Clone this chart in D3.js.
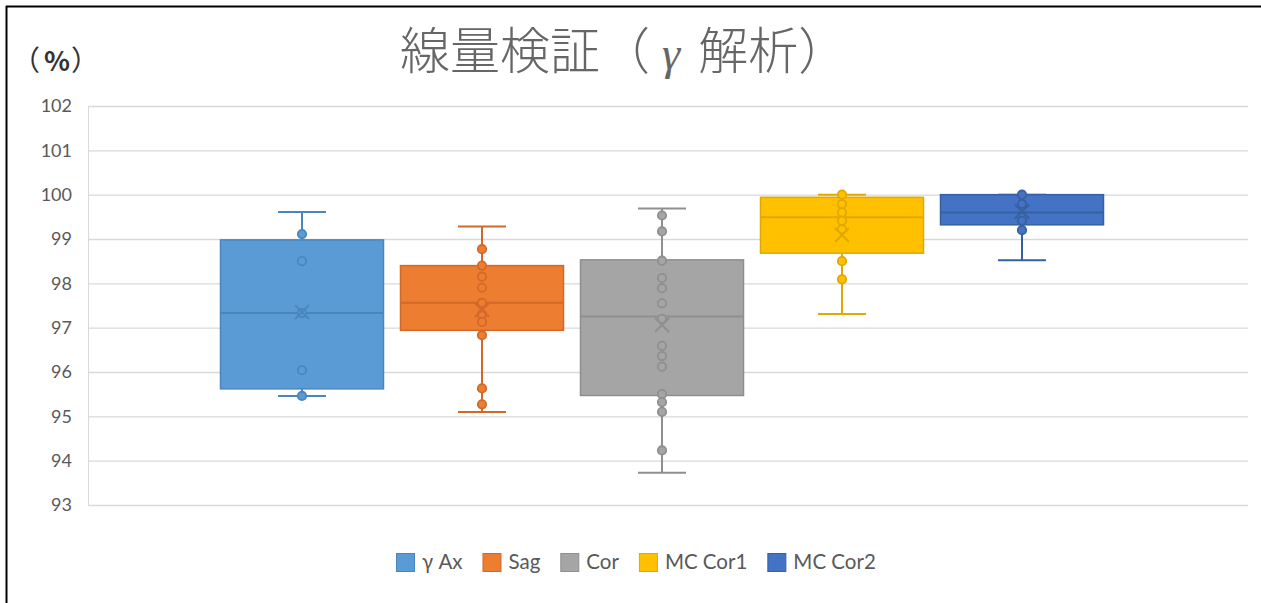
<!DOCTYPE html>
<html>
<head>
<meta charset="utf-8">
<script src="https://cdn.jsdelivr.net/npm/d3@7"></script>
<style>
  body { margin: 0; background: #fff; }
  svg { display: block; }
</style>
</head>
<body>
<svg width="1261" height="603"></svg>
<script>
const svg = d3.select("svg");

// series names + colours (Excel office palette)
const series = ["γ Ax", "Sag", "Cor", "MC Cor1", "MC Cor2"];
const fills = ["#5B9BD5", "#ED7D31", "#A5A5A5", "#FFC000", "#4472C4"];
const strokes = ["#4a86be", "#d2692a", "#8f8f8f", "#e0a800", "#36609f"];

// box statistics
const mins = [95.46, 95.10, 93.73, 97.31, 98.52];
const q1s = [95.62, 96.94, 95.47, 98.68, 99.32];
const medians = [97.33, 97.56, 97.25, 99.49, 99.60];
const q3s = [98.98, 98.40, 98.53, 99.94, 100.0];
const maxs = [99.61, 99.28, 99.69, 100.0, 100.0];
const means = [97.35, 97.40, 97.06, 99.09, 99.62];

// individual points shown on each box
const points = [
  [99.11, 98.50, 97.33, 96.04, 95.46],
  [98.77, 98.40, 98.15, 97.90, 97.56, 97.30, 97.13, 96.83, 95.63, 95.27],
  [99.53, 99.17, 98.51, 98.12, 97.89, 97.55, 97.20, 96.59, 96.36, 96.12, 95.50, 95.32, 95.10, 94.23],
  [100.0, 99.79, 99.60, 99.41, 99.22, 98.50, 98.09],
  [100.0, 99.79, 99.41, 99.20]
];

const yTicks = [93, 94, 95, 96, 97, 98, 99, 100, 101, 102];

const plotLeft = 88, plotRight = 1248, plotTop = 106, plotBottom = 505;

const y = d3.scaleLinear().domain([93, 102]).range([plotBottom, plotTop]);
const x = d3.scaleBand().domain(series).range([212, 1112])
  .paddingInner(0.0944).paddingOuter(0.0472);

// frame lines (top + left border of chart)
svg.append("line").attr("x1", 6).attr("x2", 1261).attr("y1", 6.5).attr("y2", 6.5)
  .attr("stroke", "#000").attr("stroke-width", 2);
svg.append("line").attr("x1", 6.5).attr("x2", 6.5).attr("y1", 6).attr("y2", 603)
  .attr("stroke", "#000").attr("stroke-width", 2);

// title
const title = svg.append("text")
  .attr("x", 400).attr("y", 69)
  .attr("font-family", "'Noto Sans CJK JP', sans-serif")
  .attr("font-size", 50)
  .attr("font-weight", 300)
  .attr("fill", "#666");
title.append("tspan").text("線量検証（");
title.append("tspan").attr("font-style", "italic").attr("font-family", "'Liberation Serif', serif")
  .attr("font-size", 46).attr("dx", 12).text("γ");
title.append("tspan").attr("dx", 18).text("解析）");

// unit label
const unit = svg.append("text")
  .attr("y", 71)
  .attr("font-family", "'Noto Sans CJK JP', sans-serif")
  .attr("font-size", 28)
  .attr("fill", "#333");
unit.append("tspan").attr("x", 12).text("（");
unit.append("tspan").attr("x", 44).attr("font-weight", 700).attr("font-size", 27).text("%");
unit.append("tspan").attr("x", 71).text("）");

// grid + y axis
const yAxis = d3.axisLeft(y).tickValues(yTicks).tickSize(-(plotRight - plotLeft)).tickPadding(16);
const gy = svg.append("g").attr("transform", `translate(${plotLeft},0)`).call(yAxis);
gy.select(".domain").attr("stroke", "#d9d9d9").attr("d", `M0.5,${plotTop}V${plotBottom}`);
gy.selectAll(".tick line").attr("stroke", "#d9d9d9").attr("stroke-width", 1.3);
gy.selectAll(".tick text")
  .attr("fill", "#595959")
  .attr("font-family", "Lato, 'Liberation Sans', sans-serif")
  .attr("font-size", 18);

// boxes
const idx = d3.range(series.length);
const g = svg.selectAll("g.box").data(idx).join("g").attr("class", "box");

const cx = (i) => x(series[i]) + x.bandwidth() / 2;
const capW = 24;

// whiskers
g.append("line")
  .attr("x1", cx).attr("x2", cx)
  .attr("y1", (i) => y(maxs[i])).attr("y2", (i) => y(q3s[i]))
  .attr("stroke", (i) => strokes[i]).attr("stroke-width", 2);
g.append("line")
  .attr("x1", cx).attr("x2", cx)
  .attr("y1", (i) => y(q1s[i])).attr("y2", (i) => y(mins[i]))
  .attr("stroke", (i) => strokes[i]).attr("stroke-width", 2);
g.append("line")
  .attr("x1", (i) => cx(i) - capW).attr("x2", (i) => cx(i) + capW)
  .attr("y1", (i) => y(maxs[i])).attr("y2", (i) => y(maxs[i]))
  .attr("stroke", (i) => strokes[i]).attr("stroke-width", 2);
g.append("line")
  .attr("x1", (i) => cx(i) - capW).attr("x2", (i) => cx(i) + capW)
  .attr("y1", (i) => y(mins[i])).attr("y2", (i) => y(mins[i]))
  .attr("stroke", (i) => strokes[i]).attr("stroke-width", 2);

g.append("rect")
  .attr("x", (i) => x(series[i]))
  .attr("width", x.bandwidth())
  .attr("y", (i) => y(q3s[i]))
  .attr("height", (i) => y(q1s[i]) - y(q3s[i]))
  .attr("fill", (i) => fills[i])
  .attr("stroke", (i) => strokes[i])
  .attr("stroke-width", 1.5);

g.append("line")
  .attr("x1", (i) => x(series[i])).attr("x2", (i) => x(series[i]) + x.bandwidth())
  .attr("y1", (i) => y(medians[i])).attr("y2", (i) => y(medians[i]))
  .attr("stroke", (i) => strokes[i]).attr("stroke-width", 2);

// points
g.each(function (i) {
  d3.select(this).selectAll("circle").data(points[i]).join("circle")
    .attr("cx", cx(i))
    .attr("cy", (d) => y(d))
    .attr("r", 4.2)
    .attr("fill", fills[i])
    .attr("stroke", strokes[i])
    .attr("stroke-width", 1.8);
});

// mean marker (X)
const m = 7;
g.append("path")
  .attr("d", (i) => {
    const px = cx(i), py = y(means[i]);
    return `M${px - m},${py - m}L${px + m},${py + m}M${px - m},${py + m}L${px + m},${py - m}`;
  })
  .attr("stroke", (i) => strokes[i])
  .attr("stroke-width", 2)
  .attr("fill", "none");

// legend
const legend = svg.append("g").attr("transform", "translate(396,553)");
let lx = 0;
series.forEach((s, i) => {
  legend.append("rect")
    .attr("x", lx + 0.5).attr("y", 0.5).attr("width", 18).attr("height", 18)
    .attr("fill", fills[i]).attr("stroke", strokes[i]);
  const t = legend.append("text")
    .attr("x", lx + 26).attr("y", 16)
    .attr("font-family", "Lato, 'Liberation Sans', sans-serif")
    .attr("font-size", 20.5)
    .attr("fill", "#595959")
    .text(s);
  lx += 26 + t.node().getComputedTextLength() + 20;
});
</script>
</body>
</html>
